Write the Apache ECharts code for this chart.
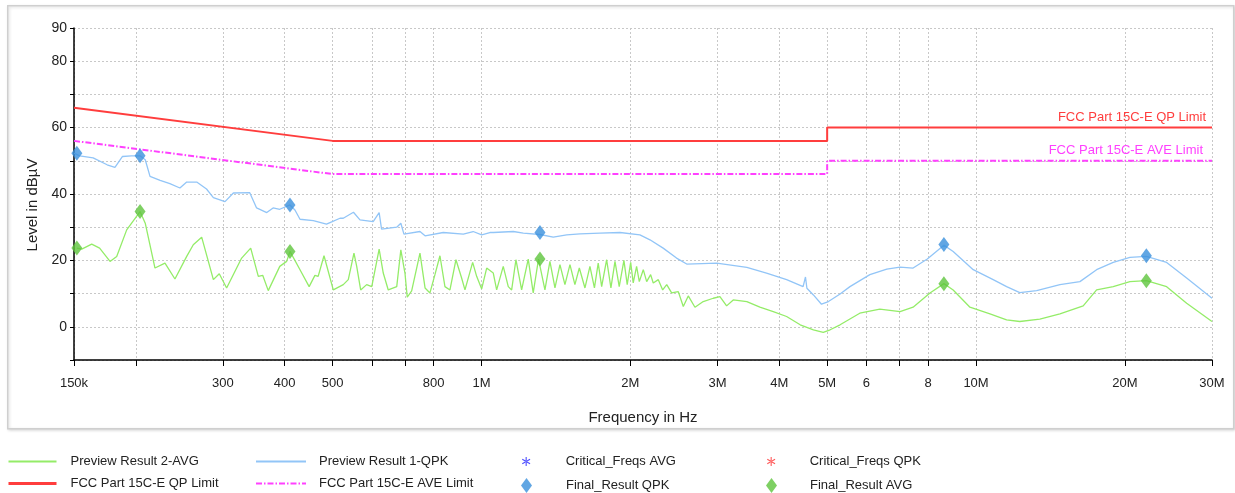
<!DOCTYPE html>
<html>
<head>
<meta charset="utf-8">
<script src="https://cdn.jsdelivr.net/npm/echarts@6/dist/echarts.min.js"></script>
<style>
html,body{margin:0;padding:0;background:#fff}
#main{width:1235px;height:493px}
</style>
</head>
<body>
<div id="main"></div>
<script>
"use strict";
// frequencies in MHz, levels in dBuV
var previewQpk = [[0.150,52.3],[0.154,51.5],[0.164,50.9],[0.175,48.8],[0.1815,48.0],[0.188,51.3],[0.196,51.5],[0.204,51.5],[0.209,50.3],[0.2137,45.3],[0.224,44.1],[0.2344,43.1],[0.2456,41.8],[0.2535,43.6],[0.2656,43.6],[0.278,41.5],[0.287,38.9],[0.303,37.7],[0.315,40.3],[0.340,40.4],[0.351,35.8],[0.368,34.4],[0.379,35.8],[0.391,35.4],[0.410,36.7],[0.4196,35.2],[0.4296,32.4],[0.457,32.0],[0.486,30.9],[0.494,31.4],[0.5175,32.7],[0.5255,32.7],[0.551,34.5],[0.568,32.2],[0.604,31.7],[0.621,34.4],[0.628,29.4],[0.674,30.0],[0.687,31.2],[0.697,27.9],[0.751,28.7],[0.769,27.4],[0.837,28.4],[0.919,27.9],[0.962,28.7],[1.001,27.7],[1.040,28.4],[1.057,28.4],[1.160,28.7],[1.215,28.2],[1.313,27.8],[1.397,27.0],[1.487,27.7],[1.582,28.0],[1.736,28.2],[1.906,28.4],[2.091,27.7],[2.191,26.2],[2.33,23.7],[2.48,20.7],[2.60,18.9],[2.99,19.2],[3.44,17.9],[3.77,16.2],[4.14,14.2],[4.47,12.1],[4.52,15.0],[4.55,11.6],[4.69,9.6],[4.87,6.8],[5.03,7.6],[5.31,9.9],[5.56,12.1],[6.10,15.7],[6.60,17.4],[7.02,18.0],[7.46,17.7],[7.97,20.4],[8.61,24.6],[8.99,22.7],[9.87,17.2],[10.83,14.2],[11.53,12.1],[12.26,10.3],[13.26,10.9],[14.78,12.7],[16.22,13.6],[17.53,17.2],[18.94,19.4],[20.47,20.9],[22.1,21.2],[24.29,19.4],[26.66,14.7],[30,8.6]];

var previewAvg = [[0.152,23.7],[0.1555,23.4],[0.1629,24.9],[0.169,23.7],[0.1774,19.7],[0.183,21.2],[0.1917,29.2],[0.204,34.7],[0.209,31.2],[0.2187,17.7],[0.2291,19.2],[0.240,14.4],[0.2535,21.2],[0.2614,24.7],[0.2718,27.0],[0.287,14.2],[0.295,16.0],[0.3053,11.7],[0.3274,20.7],[0.3415,23.7],[0.3538,15.2],[0.3611,15.5],[0.3706,10.9],[0.391,18.2],[0.4037,19.7],[0.410,22.7],[0.4296,17.2],[0.4483,12.1],[0.4605,15.5],[0.4675,15.2],[0.4804,21.4],[0.5016,11.1],[0.5255,12.7],[0.5379,14.2],[0.5523,22.2],[0.5594,18.2],[0.5698,11.1],[0.5859,12.7],[0.600,12.1],[0.621,23.4],[0.633,16.2],[0.6479,11.1],[0.674,12.1],[0.687,23.2],[0.7003,16.2],[0.7078,8.9],[0.7225,10.8],[0.751,22.2],[0.769,11.7],[0.7867,10.2],[0.8052,15.7],[0.8242,21.4],[0.8436,12.1],[0.8635,11.1],[0.888,20.2],[0.9117,14.7],[0.926,11.1],[0.9598,19.4],[0.9778,15.2],[1.001,11.4],[1.0245,17.7],[1.0565,16.2],[1.0733,11.1],[1.1067,18.2],[1.1329,12.1],[1.1509,11.1],[1.174,20.2],[1.2056,11.1],[1.2432,20.4],[1.2724,10.2],[1.3042,20.4],[1.3437,11.1],[1.3753,19.7],[1.408,11.7],[1.441,18.7],[1.475,12.7],[1.5098,18.7],[1.545,12.7],[1.577,17.7],[1.619,11.7],[1.657,18.2],[1.692,11.7],[1.722,19.2],[1.750,12.1],[1.791,20.2],[1.827,11.7],[1.862,19.7],[1.899,12.1],[1.941,20.0],[1.971,12.7],[2.003,19.4],[2.027,13.2],[2.059,18.2],[2.085,13.6],[2.124,17.2],[2.158,13.6],[2.198,15.7],[2.225,13.2],[2.278,14.2],[2.325,11.1],[2.369,12.7],[2.424,10.2],[2.50,10.6],[2.559,6.1],[2.619,9.3],[2.702,5.9],[2.808,7.6],[2.942,8.6],[3.035,9.1],[3.131,6.3],[3.229,8.1],[3.44,7.6],[3.656,5.9],[3.89,4.6],[4.14,3.1],[4.41,0.6],[4.69,-0.9],[4.91,-1.7],[5.07,-0.9],[5.31,0.6],[5.82,4.1],[6.39,5.3],[7.02,4.6],[7.46,5.9],[8.07,10.2],[8.61,13.0],[8.99,11.1],[9.72,5.9],[10.67,3.9],[11.53,2.1],[12.26,1.6],[13.46,2.3],[14.78,3.9],[16.47,6.3],[17.53,11.1],[18.94,12.1],[20.47,13.6],[22.1,13.9],[24.29,12.1],[26.66,7.1],[30,1.6]];

var qpLimit  = [[0.15,66],[0.5,56],[5,56],[5,60],[30,60]];
var aveLimit = [[0.15,56],[0.5,46],[5,46],[5,50],[30,50]];

var finalQpk = [[0.152,52.3],[0.204,51.5],[0.410,36.7],[1.313,28.4],[8.61,24.8],[22.1,21.4]];
var finalAvg = [[0.152,23.7],[0.204,34.7],[0.410,22.7],[1.313,20.4],[8.61,13.0],[22.1,13.9]];

var tickMHz   = [0.15,0.2,0.3,0.4,0.5,0.6,0.7,0.8,1,2,3,4,5,6,7,8,10,20,30];
var labelMHz  = [0.15,0.3,0.4,0.5,0.8,1,2,3,4,5,6,8,10,20,30];
var labelText = ['150k','300','400','500','800','1M','2M','3M','4M','5M','6','8','10M','20M','30M'];
var yLabels   = [0,20,40,60,80,90];

var FONT = "'Liberation Sans Narrow','Liberation Sans',Arial,sans-serif";
var ASTER = 'path://M4.4,0H5.6V10H4.4Z M0.37,3.02L0.97,1.98L9.63,6.98L9.03,8.02Z M0.37,6.98L0.97,8.02L9.63,3.02L9.03,1.98Z';

function toXY(arr){ return arr.map(function(p){ return [Math.log10(p[0]), p[1]]; }); }
function xLabel(v){
	for(var i=0;i<labelMHz.length;i++){ if(Math.abs(Math.log10(labelMHz[i]) - v) < 1e-6) return labelText[i]; }
	return '';
}
var LEG_TEXT = { fontFamily:FONT, fontSize:13, color:'#222' };
function legendCol(left, itemW, pad, names){
	return { orient:'vertical', left:left, top:455, padding:0, itemWidth:itemW, itemHeight:14, itemGap:9,
		selectedMode:false, data:names,
		textStyle:Object.assign({ padding:[0,0,0,pad] }, LEG_TEXT) };
}
function legendOne(left, top, itemW, itemH, pad, name){
	return { left:left, top:top, padding:0, itemWidth:itemW, itemHeight:itemH,
		selectedMode:false, data:[name],
		textStyle:Object.assign({ padding:[0,0,0,pad] }, LEG_TEXT) };
}
// line legend entries: hide the middle symbol, keep the line
function lineItem(name, w){ return { name:name, itemStyle:{ opacity:0 }, lineStyle:{ width:w } }; }

var chart = echarts.init(document.getElementById('main'));
var option = {
	animation:false,
	backgroundColor:'#fff',
	graphic:[{ type:'rect', left:7, top:5, shape:{ width:1226, height:423 }, z:-10,
		style:{ fill:'#fff', stroke:'#cfcfcf', lineWidth:1.5, shadowBlur:3, shadowColor:'rgba(0,0,0,0.15)', shadowOffsetX:1, shadowOffsetY:1 } }],
	grid:{ left:74, right:23, top:28, bottom:133, containLabel:false },
	legend:[
		legendCol(7, 48, 9, [lineItem('Preview Result 2-AVG', 2), lineItem('FCC Part 15C-E QP Limit', 3)]),
		legendCol(255, 50, 8, [lineItem('Preview Result 1-QPK', 2), lineItem('FCC Part 15C-E AVE Limit', 2)]),
		legendOne(522, 455, 9, 9, 30, 'Critical_Freqs AVG'),
		legendOne(521, 478, 11, 15, 29, 'Final_Result QPK'),
		legendOne(767, 455, 9, 9, 29, 'Critical_Freqs QPK'),
		legendOne(766, 478, 11, 15, 28, 'Final_Result AVG')
	],
	xAxis:{
		type:'value', min:Math.log10(0.15), max:Math.log10(30),
		name:'Frequency in Hz', nameLocation:'middle', nameGap:50,
		nameTextStyle:{ fontFamily:FONT, fontSize:15, color:'#222' },
		axisLine:{ show:true, onZero:false, lineStyle:{ color:'#000', width:1.5 } },
		axisTick:{ show:true, length:6, customValues:tickMHz.map(Math.log10), lineStyle:{ color:'#000' } },
		axisLabel:{ customValues:labelMHz.map(Math.log10), formatter:xLabel, margin:17,
			fontFamily:FONT, fontSize:13, color:'#222' },
		splitLine:{ show:true, lineStyle:{ color:'#c8c8c8', type:[2,2] } }
	},
	yAxis:{
		type:'value', min:-10, max:90, interval:10,
		name:'Level in dBµV', nameLocation:'middle', nameGap:25, nameRotate:90,
		nameTextStyle:{ fontFamily:FONT, fontSize:15, color:'#222', padding:[0,22,0,0] },
		axisLine:{ show:true, onZero:false, lineStyle:{ color:'#000', width:1.5 } },
		axisTick:{ show:true, length:4, lineStyle:{ color:'#000' } },
		axisLabel:{ customValues:yLabels, margin:7, fontFamily:FONT, fontSize:14, color:'#222' },
		splitLine:{ show:true, lineStyle:{ color:'#c8c8c8', type:[2,2] } }
	},
	series:[
		{ name:'FCC Part 15C-E QP Limit', type:'line', data:toXY(qpLimit), symbol:'none', z:3,
			lineStyle:{ color:'#ff3d3d', width:2 }, itemStyle:{ color:'#ff3d3d' },
			endLabel:{ show:true, formatter:'{a}', align:'right', offset:[-14,-10], color:'#ff3d3d', fontFamily:FONT, fontSize:13 } },
		{ name:'FCC Part 15C-E AVE Limit', type:'line', data:toXY(aveLimit), symbol:'none', z:3,
			lineStyle:{ color:'#ff40ff', width:2, type:[6,2,1.5,2] }, itemStyle:{ color:'#ff40ff' },
			endLabel:{ show:true, formatter:'{a}', align:'right', offset:[-17,-10], color:'#ff40ff', fontFamily:FONT, fontSize:13 } },
		{ name:'Preview Result 1-QPK', type:'line', data:toXY(previewQpk), symbol:'none', z:2,
			lineStyle:{ color:'#92c5f7', width:1.3 }, itemStyle:{ color:'#92c5f7' } },
		{ name:'Preview Result 2-AVG', type:'line', data:toXY(previewAvg), symbol:'none', z:2,
			lineStyle:{ color:'#94ec68', width:1.3 }, itemStyle:{ color:'#94ec68' } },
		{ name:'Critical_Freqs AVG', type:'scatter', data:[], symbol:ASTER, symbolKeepAspect:true, symbolSize:8,
			itemStyle:{ color:'#2020ff' } },
		{ name:'Critical_Freqs QPK', type:'scatter', data:[], symbol:ASTER, symbolKeepAspect:true, symbolSize:8,
			itemStyle:{ color:'#ff3030' } },
		{ name:'Final_Result QPK', type:'scatter', data:toXY(finalQpk), symbol:'diamond',
			symbolSize:[11,15], z:5, itemStyle:{ color:'#3a90dc' } },
		{ name:'Final_Result AVG', type:'scatter', data:toXY(finalAvg), symbol:'diamond',
			symbolSize:[11,15], z:5, itemStyle:{ color:'#5ec43c' } }
	]
};
chart.setOption(option);
</script>
</body>
</html>
